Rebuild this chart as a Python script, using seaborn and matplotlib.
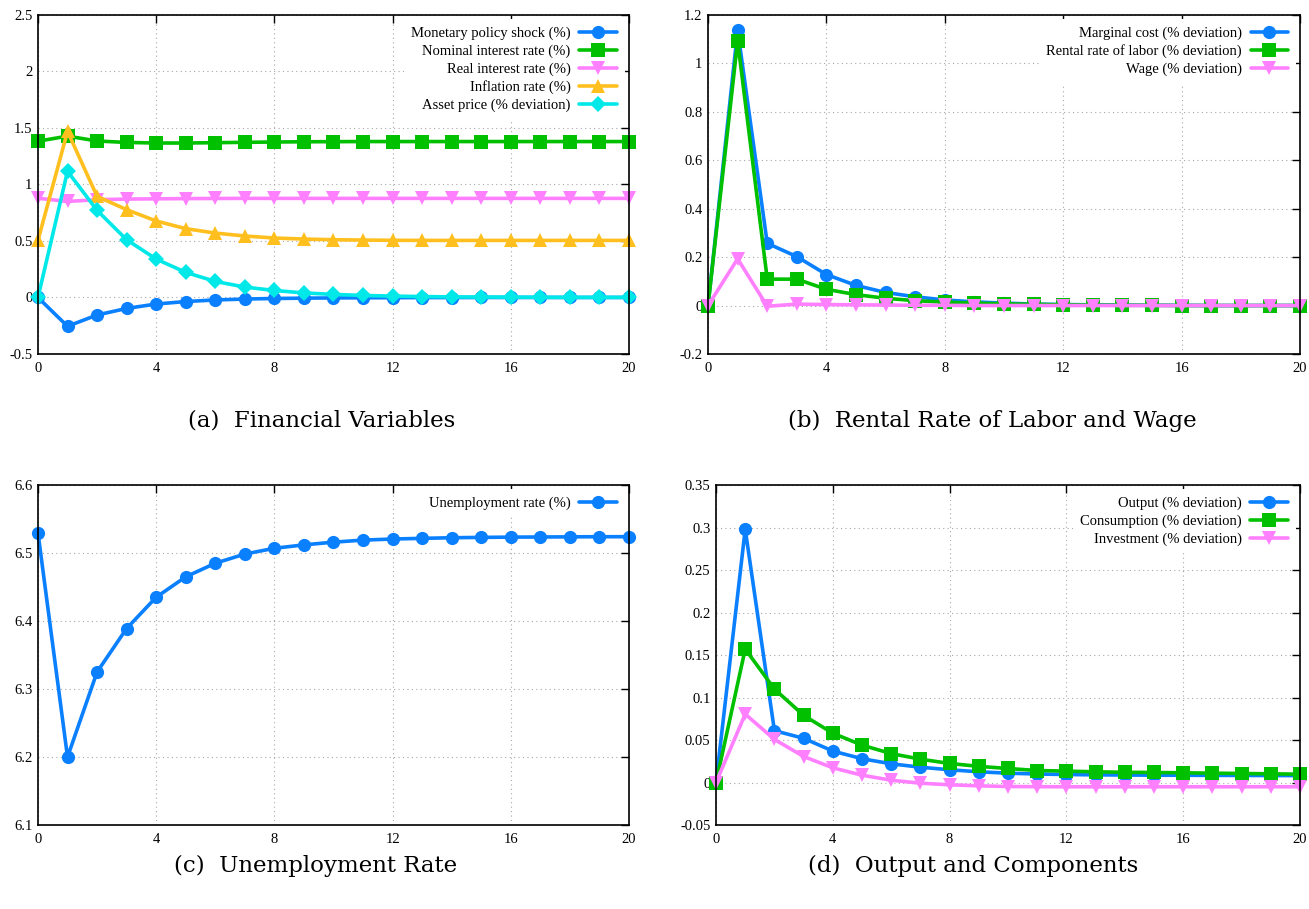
import matplotlib

matplotlib.use("Agg")
import matplotlib.pyplot as plt
from matplotlib.ticker import FuncFormatter
import pandas as pd
import seaborn as sns


PERIODS = list(range(21))

# (a) Financial variables
MONETARY_SHOCK = [0, -0.255, -0.155, -0.097, -0.058, -0.036, -0.022, -0.014, -0.009,
                  -0.006, -0.004, -0.003, -0.002, -0.001, -0.001, 0, 0, 0, 0, 0, 0]
NOMINAL_RATE = [1.383, 1.428, 1.385, 1.372, 1.367, 1.367, 1.370, 1.373, 1.376, 1.378,
                1.379, 1.380, 1.380, 1.380, 1.380, 1.380, 1.380, 1.380, 1.380, 1.380, 1.380]
REAL_RATE = [0.878, 0.850, 0.865, 0.871, 0.873, 0.875, 0.876, 0.877, 0.877, 0.877, 0.877,
             0.877, 0.877, 0.877, 0.877, 0.877, 0.877, 0.877, 0.877, 0.877, 0.877]
INFLATION = [0.505, 1.470, 0.895, 0.777, 0.677, 0.609, 0.570, 0.544, 0.526, 0.517, 0.511,
             0.508, 0.506, 0.505, 0.505, 0.505, 0.505, 0.505, 0.505, 0.505, 0.505]
ASSET_PRICE = [0, 1.117, 0.771, 0.511, 0.340, 0.222, 0.142, 0.092, 0.062, 0.040, 0.027,
               0.018, 0.012, 0.008, 0.005, 0.004, 0.003, 0.002, 0.001, 0.001, 0.001]

# (b) Rental rate of labor and wage
MARGINAL_COST = [0, 1.137, 0.257, 0.202, 0.128, 0.083, 0.054, 0.036, 0.023, 0.015, 0.010,
                 0.006, 0.004, 0.003, 0.002, 0.001, 0.001, 0, 0, 0, 0]
RENTAL_LABOR = [0, 1.093, 0.109, 0.109, 0.067, 0.045, 0.030, 0.020, 0.014, 0.010, 0.007,
                0.005, 0.003, 0.002, 0.001, 0.001, 0, 0, 0, 0, 0]
WAGE = [0, 0.193, -0.003, 0.006, 0.004, 0.003, 0.002, 0.001, 0.001, 0, 0, 0, 0, 0, 0, 0,
        0, 0, 0, 0, 0]

# (c) Unemployment rate
UNEMPLOYMENT = [6.530, 6.200, 6.325, 6.389, 6.435, 6.465, 6.485, 6.4985, 6.507, 6.512,
                6.516, 6.519, 6.5206, 6.5216, 6.5225, 6.523, 6.5234, 6.5236, 6.5238,
                6.524, 6.524]

# (d) Output and components
OUTPUT = [0, 0.298, 0.061, 0.052, 0.037, 0.028, 0.022, 0.018, 0.015, 0.0126, 0.011,
          0.010, 0.0094, 0.009, 0.0088, 0.0086, 0.0085, 0.0084, 0.0083, 0.0082, 0.0081]
CONSUMPTION = [0, 0.157, 0.110, 0.079, 0.058, 0.044, 0.034, 0.0275, 0.0224, 0.019,
               0.0165, 0.0141, 0.0134, 0.0126, 0.012, 0.0118, 0.0114, 0.011, 0.0106,
               0.0102, 0.0098]
INVESTMENT = [0, 0.0805, 0.0507, 0.0306, 0.0173, 0.0086, 0.0027, -0.0008, -0.0027,
              -0.0039, -0.0047, -0.0049, -0.005, -0.005, -0.005, -0.005, -0.005,
              -0.005, -0.005, -0.005, -0.005]

BLUE = "#0a80ff"
GREEN = "#00c000"
PINK = "#ff80ff"
ORANGE = "#ffbf1f"
CYAN = "#00e8e8"

PANELS = [
    {
        "rect": [0.0290, 0.6106, 0.4515, 0.3729],
        "series": [
            ("Monetary policy shock (%)", MONETARY_SHOCK, BLUE, "o"),
            ("Nominal interest rate (%)", NOMINAL_RATE, GREEN, "s"),
            ("Real interest rate (%)", REAL_RATE, PINK, "v"),
            ("Inflation rate (%)", INFLATION, ORANGE, "^"),
            ("Asset price (% deviation)", ASSET_PRICE, CYAN, "D"),
        ],
        "ylim": (-0.5, 2.5),
        "yticks": [-0.5, 0, 0.5, 1, 1.5, 2, 2.5],
        "caption": ("(a)  Financial Variables", 322 / 1309, 1 - 421 / 909),
    },
    {
        "rect": [0.5409, 0.6106, 0.4523, 0.3729],
        "series": [
            ("Marginal cost (% deviation)", MARGINAL_COST, BLUE, "o"),
            ("Rental rate of labor (% deviation)", RENTAL_LABOR, GREEN, "s"),
            ("Wage (% deviation)", WAGE, PINK, "v"),
        ],
        "ylim": (-0.2, 1.2),
        "yticks": [-0.2, 0, 0.2, 0.4, 0.6, 0.8, 1, 1.2],
        "caption": ("(b)  Rental Rate of Labor and Wage", 992 / 1309, 1 - 421 / 909),
    },
    {
        "rect": [0.0290, 0.0924, 0.4515, 0.3740],
        "series": [
            ("Unemployment rate (%)", UNEMPLOYMENT, BLUE, "o"),
        ],
        "ylim": (6.1, 6.6),
        "yticks": [6.1, 6.2, 6.3, 6.4, 6.5, 6.6],
        "caption": ("(c)  Unemployment Rate", 316 / 1309, 1 - 866 / 909),
    },
    {
        "rect": [0.5470, 0.0924, 0.4461, 0.3740],
        "series": [
            ("Output (% deviation)", OUTPUT, BLUE, "o"),
            ("Consumption (% deviation)", CONSUMPTION, GREEN, "s"),
            ("Investment (% deviation)", INVESTMENT, PINK, "v"),
        ],
        "ylim": (-0.05, 0.35),
        "yticks": [-0.05, 0, 0.05, 0.1, 0.15, 0.2, 0.25, 0.3, 0.35],
        "caption": ("(d)  Output and Components", 973 / 1309, 1 - 866 / 909),
    },
]

sns.set_theme(style="white")
plt.rcParams["font.family"] = ["Liberation Serif", "DejaVu Serif"]
plt.rcParams["axes.unicode_minus"] = False

fmt = FuncFormatter(lambda v, pos: f"{round(v, 6):g}")

fig = plt.figure(figsize=(13.09, 9.09), dpi=100)

for panel in PANELS:
    ax = fig.add_axes(panel["rect"])
    for name, values, color, marker in panel["series"]:
        df = pd.DataFrame({"Period": PERIODS, "Value": values})
        sns.lineplot(
            data=df,
            x="Period",
            y="Value",
            color=color,
            marker=marker,
            markersize=9.5 if marker != "D" else 8.5,
            markeredgewidth=0,
            linewidth=2.6,
            label=name,
            clip_on=False,
            ax=ax,
        )

    ax.set_xlim(0, 20)
    ax.set_ylim(*panel["ylim"])
    ax.set_xticks([0, 4, 8, 12, 16, 20])
    ax.set_yticks(panel["yticks"])
    ax.yaxis.set_major_formatter(fmt)
    ax.set_xlabel("")
    ax.set_ylabel("")
    ax.set_axisbelow(True)
    ax.grid(True, color="#a8a8a8", linestyle=(0, (1, 3)), linewidth=0.8)
    ax.tick_params(direction="in", top=True, right=True, length=6, width=1,
                   color="black", labelsize=10.5, labelcolor="black")
    ax.tick_params(axis="x", pad=6)
    ax.tick_params(axis="y", pad=4)
    for spine in ax.spines.values():
        spine.set_visible(True)
        spine.set_color("black")
        spine.set_linewidth(1.2)

    leg = ax.legend(
        loc="upper right",
        markerfirst=False,
        frameon=True,
        facecolor="white",
        edgecolor="none",
        framealpha=1,
        fancybox=False,
        fontsize=10.5,
        labelspacing=0.3,
        handlelength=2.6,
        handletextpad=0.6,
        borderpad=0.5,
        borderaxespad=0.3,
    )
    for t in leg.get_texts():
        t.set_color("black")

    text, cx, cy = panel["caption"]
    fig.text(cx, cy, text, ha="center", va="center", fontsize=16.5,
             color="black", family=["DejaVu Serif"])

fig.savefig("out.png", dpi=100)
